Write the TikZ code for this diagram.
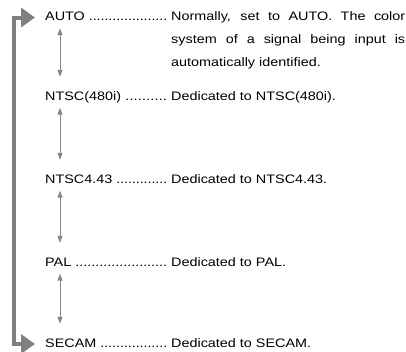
\documentclass[tikz,border=0pt]{standalone}
\usepackage{fontspec}
\setmainfont{Liberation Sans}[FakeStretch=1.17]
\usepackage{tikz}
\usetikzlibrary{positioning,arrows.meta,calc}
\definecolor{cLoop}{RGB}{128,128,128}
\definecolor{cStep}{RGB}{135,135,135}
\hyphenpenalty=10000
\exhyphenpenalty=10000
\newcommand{\dotlabel}[1]{\makebox[126pt][l]{#1 \xleaders\hbox to 3.9pt{\hss.\hss}\hfill\hspace{4pt}}}

\begin{document}
\begin{tikzpicture}[x=1pt,y=-1pt,font=\fontsize{12.3}{23}\selectfont]
\tikzset{lbl/.style={anchor=base west,inner sep=0pt,text height=9pt,text depth=3pt},
  desc/.style={anchor=base west,inner sep=0pt,text width=234pt,align=justify},
  updown/.style={{Triangle[length=7pt,width=5pt]}-{Triangle[length=7pt,width=5pt]},cStep,line width=1pt},
  loop/.style={{Triangle[length=14pt,width=19pt]}-{Triangle[length=14pt,width=19pt]},cLoop,line width=4pt}}
\useasboundingbox (0,0) rectangle (406,351);
\node[lbl] (auto) at (45,20.5) {\dotlabel{AUTO}};
\node[lbl] (ntsc) at (45,100) {\dotlabel{NTSC(480i)}};
\node[lbl] (ntscb) at (45,183) {\dotlabel{NTSC4.43}};
\node[lbl] (pal) at (45,266) {\dotlabel{PAL}};
\node[lbl] (secam) at (45,347) {\dotlabel{SECAM}};

\node[desc] (dauto) at (171,20.5) {Normally, set to AUTO. The color system of a signal being input is automatically identified.};
\node[desc] (dntsc) at (171,100) {Dedicated to NTSC(480i).};
\node[desc] (dntscb) at (171,183) {Dedicated to NTSC4.43.};
\node[desc] (dpal) at (171,266) {Dedicated to PAL.};
\node[desc] (dsecam) at (171,347) {Dedicated to SECAM.};

\draw[updown,shorten <=4.5pt,shorten >=14pt] ([xshift=15pt]auto.south west) -- ([xshift=15pt]ntsc.north west);
\draw[updown,shorten <=4.5pt,shorten >=14pt] ([xshift=15pt]ntsc.south west) -- ([xshift=15pt]ntscb.north west);
\draw[updown,shorten <=4.5pt,shorten >=14pt] ([xshift=15pt]ntscb.south west) -- ([xshift=15pt]pal.north west);
\draw[updown,shorten <=4.5pt,shorten >=14pt] ([xshift=15pt]pal.south west) -- ([xshift=15pt]secam.north west);

\draw[loop,shorten <=10pt,shorten >=10pt] (auto.west) -- ++(-31,0) |- (secam.west);
\end{tikzpicture}
\end{document}
